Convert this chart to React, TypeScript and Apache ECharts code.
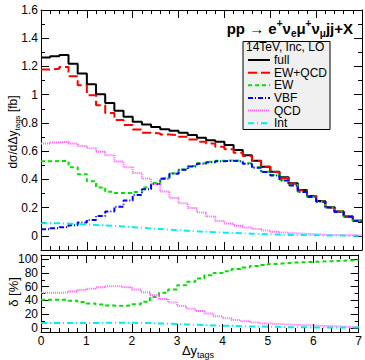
import React, { useEffect, useRef } from "react";
import * as echarts from "echarts";

// 35 bins of width 0.2 from 0 to 7 (Δy_tags)
const binWidth = 0.2;
const nBins = 35;

// dσ/dΔy_tags [fb]
const full = [1.263, 1.272, 1.281, 1.22, 1.15, 1.074, 1.003, 0.942, 0.886, 0.843, 0.808, 0.789, 0.772, 0.756, 0.744, 0.73, 0.714, 0.695, 0.678, 0.667, 0.643, 0.608, 0.572, 0.532, 0.49, 0.455, 0.415, 0.372, 0.325, 0.283, 0.247, 0.203, 0.172, 0.137, 0.108];
const ewqcd = [1.178, 1.183, 1.197, 1.131, 1.067, 0.996, 0.926, 0.871, 0.82, 0.785, 0.754, 0.73, 0.726, 0.718, 0.714, 0.702, 0.683, 0.667, 0.655, 0.631, 0.613, 0.589, 0.565, 0.53, 0.49, 0.452, 0.41, 0.37, 0.324, 0.282, 0.246, 0.203, 0.172, 0.137, 0.108];
const ew = [0.528, 0.53, 0.53, 0.486, 0.437, 0.387, 0.343, 0.312, 0.303, 0.303, 0.31, 0.342, 0.375, 0.408, 0.443, 0.471, 0.495, 0.514, 0.525, 0.532, 0.535, 0.53, 0.514, 0.486, 0.455, 0.431, 0.396, 0.36, 0.313, 0.278, 0.243, 0.203, 0.172, 0.137, 0.107];
const vbf = [0.047, 0.054, 0.061, 0.075, 0.094, 0.113, 0.141, 0.172, 0.207, 0.25, 0.29, 0.33, 0.367, 0.405, 0.44, 0.468, 0.492, 0.511, 0.522, 0.529, 0.532, 0.527, 0.511, 0.483, 0.452, 0.428, 0.393, 0.357, 0.311, 0.276, 0.241, 0.201, 0.17, 0.136, 0.106];
const qcd = [0.655, 0.662, 0.667, 0.655, 0.636, 0.62, 0.596, 0.572, 0.527, 0.486, 0.445, 0.406, 0.368, 0.315, 0.268, 0.232, 0.197, 0.165, 0.137, 0.105, 0.087, 0.072, 0.06, 0.048, 0.038, 0.03, 0.024, 0.018, 0.014, 0.011, 0.008, 0.006, 0.005, 0.004, 0.003];
const interf = [0.09, 0.089, 0.087, 0.083, 0.08, 0.077, 0.074, 0.07, 0.066, 0.062, 0.057, 0.052, 0.048, 0.044, 0.04, 0.036, 0.032, 0.029, 0.026, 0.023, 0.02, 0.018, 0.015, 0.013, 0.011, 0.009, 0.007, 0.006, 0.005, 0.004, 0.003, 0.002, 0.002, 0.001, 0.001];

// δ [%]
const ewPct = [41, 41, 41, 39.5, 37.5, 35.5, 34, 32.5, 32, 32.5, 34.5, 38, 45, 51, 56, 62, 67, 72, 76.5, 80, 82.5, 85.5, 88, 90, 91.5, 93, 94, 95, 95.5, 96, 96.5, 97, 97.5, 98, 99];
const qcdPct = [51, 51, 51.5, 53, 55, 57, 59, 60.5, 60.5, 59, 56, 52, 47.5, 42, 37, 32, 28, 24.5, 21, 17, 14, 11.5, 9.5, 8, 6.5, 5.5, 5, 4.5, 4, 3.5, 3, 2.5, 2, 1.5, 1];
const intPct = [7, 7, 7, 7, 7, 7, 7.5, 7.5, 7.5, 7.5, 7, 7, 6.5, 6, 5.5, 5, 4.5, 4, 3.5, 3, 3, 2.5, 2, 2, 1.5, 1.5, 1, 1, 1, 0.5, 0.5, 0.5, 0.5, 0.5, 0.5];

// tick labels
const xTicks = [0, 1, 2, 3, 4, 5, 6, 7];
const yTopTicks = [0, 0.2, 0.4, 0.6, 0.8, 1, 1.2, 1.4, 1.6];
const yTopMinor = [-0.1, 0, 0.1, 0.2, 0.3, 0.4, 0.5, 0.6, 0.7, 0.8, 0.9, 1, 1.1, 1.2, 1.3, 1.4, 1.5, 1.6];
const yBotTicks = [0, 20, 40, 60, 80, 100];
const yBotMinor = [0, 10, 20, 30, 40, 50, 60, 70, 80, 90, 100];

const legendNames = ["full", "EW+QCD", "EW", "VBF", "QCD", "Int"];

const FONT = "Liberation Sans, Arial, Helvetica, sans-serif";

const styles: Record<string, { color: string; type: any; width: number }> = {
  full: { color: "#000000", type: "solid", width: 2 },
  "EW+QCD": { color: "#ff0000", type: [9, 4], width: 2 },
  EW: { color: "#00e000", type: [4, 3], width: 2 },
  VBF: { color: "#0000ff", type: [5, 2, 1, 2], width: 2 },
  QCD: { color: "#ff66ff", type: [1, 1], width: 2 },
  Int: { color: "#00eeee", type: [6, 3, 1, 3], width: 2 },
};

function histData(vals: number[]) {
  const d: number[][] = vals.map((v, i) => [+(i * binWidth).toFixed(2), v]);
  d.push([+(nBins * binWidth).toFixed(2), vals[vals.length - 1]]);
  return d;
}

function stepSeries(name: string, vals: number[], xi: number, yi: number) {
  const s = styles[name];
  return {
    type: "line",
    name,
    step: "end",
    xAxisIndex: xi,
    yAxisIndex: yi,
    data: histData(vals),
    showSymbol: false,
    symbol: "none",
    lineStyle: { color: s.color, type: s.type, width: s.width },
    z: 3,
  };
}

const fmt = (v: number) => String(Math.round(v * 10) / 10);

function xAxisCfg(grid: number, pos: string, labels: boolean) {
  return {
    type: "value",
    gridIndex: grid,
    position: pos,
    min: 0,
    max: 7,
    interval: 1,
    axisLine: { show: true, onZero: false, lineStyle: { color: "#000", width: 1 } },
    axisTick: { show: true, inside: true, length: 8, lineStyle: { color: "#000" } },
    minorTick: { show: true, splitNumber: 5, length: 4, lineStyle: { color: "#000" } },
    splitLine: { show: false },
    minorSplitLine: { show: false },
    axisLabel: labels
      ? { show: true, color: "#000", fontSize: 12, fontFamily: FONT, margin: 3, customValues: xTicks }
      : { show: false },
  };
}

function yAxisCfg(grid: number, pos: string, min: number, max: number, tickVals: number[], len: number, labelVals: number[] | null, line: boolean) {
  return {
    type: "value",
    gridIndex: grid,
    position: pos,
    min,
    max,
    axisLine: { show: line, onZero: false, lineStyle: { color: "#000", width: 1 } },
    axisTick: { show: true, inside: true, length: len, customValues: tickVals, lineStyle: { color: "#000" } },
    splitLine: { show: false },
    axisLabel: labelVals
      ? { show: true, color: "#000", fontSize: 12, fontFamily: FONT, margin: 3, customValues: labelVals, formatter: fmt }
      : { show: false },
  };
}

export default function App() {
  const ref = useRef<HTMLDivElement>(null);
  useEffect(() => {
    document.body.style.margin = "0";
    if (!ref.current) return;
    const chart = echarts.init(ref.current, undefined, { renderer: "svg" });

    const legendY = [60, 72.7, 85.3, 98, 110.6, 123.3];
    const legendGraphics: any[] = [];
    legendNames.forEach((n, i) => {
      const s = styles[n];
      legendGraphics.push({
        type: "line",
        shape: { x1: 248, y1: legendY[i], x2: 270, y2: legendY[i] },
        style: { stroke: s.color, lineWidth: 2, lineDash: s.type === "solid" ? null : s.type },
        z: 101,
      });
      legendGraphics.push({
        type: "text",
        x: 274,
        y: legendY[i],
        style: { text: n, fontSize: 12, fontFamily: FONT, fill: "#000", textVerticalAlign: "middle", textAlign: "left" },
        z: 101,
      });
    });

    const option: any = {
      animation: false,
      textStyle: { fontFamily: FONT },
      grid: [
        { left: 41, right: 3, top: 10, height: 240 },
        { left: 41, right: 3, top: 255, height: 77 },
      ],
      xAxis: [
        xAxisCfg(0, "bottom", false),
        xAxisCfg(0, "top", false),
        xAxisCfg(1, "bottom", true),
        xAxisCfg(1, "top", false),
      ],
      yAxis: [
        yAxisCfg(0, "left", -0.1, 1.6, yTopMinor, 4, yTopTicks, true),
        yAxisCfg(0, "left", -0.1, 1.6, yTopTicks, 8, null, false),
        yAxisCfg(0, "right", -0.1, 1.6, yTopMinor, 4, null, true),
        yAxisCfg(0, "right", -0.1, 1.6, yTopTicks, 8, null, false),
        yAxisCfg(1, "left", -6, 106, yBotMinor, 4, yBotTicks, true),
        yAxisCfg(1, "left", -6, 106, yBotTicks, 8, null, false),
        yAxisCfg(1, "right", -6, 106, yBotMinor, 4, null, true),
        yAxisCfg(1, "right", -6, 106, yBotTicks, 8, null, false),
      ],
      series: [
        stepSeries("full", full, 0, 0),
        stepSeries("EW+QCD", ewqcd, 0, 0),
        stepSeries("EW", ew, 0, 0),
        stepSeries("VBF", vbf, 0, 0),
        stepSeries("QCD", qcd, 0, 0),
        stepSeries("Int", interf, 0, 0),
        stepSeries("EW", ewPct, 2, 4),
        stepSeries("QCD", qcdPct, 2, 4),
        stepSeries("Int", intPct, 2, 4),
      ],
      graphic: [
        {
          type: "text",
          x: 353,
          y: 28,
          style: {
            text: "{b|pp → e}{sup|+}{b|ν}{sub|e}{b|μ}{sup|+}{b|ν}{sub|μ}{b|jj+X}",
            textAlign: "right",
            textVerticalAlign: "middle",
            rich: {
              b: { fontSize: 15, fontWeight: "bold", fontFamily: FONT, fill: "#000", lineHeight: 20, verticalAlign: "middle" },
              sup: { fontSize: 10, fontWeight: "bold", fontFamily: FONT, fill: "#000", lineHeight: 20, verticalAlign: "top" },
              sub: { fontSize: 10, fontWeight: "bold", fontFamily: FONT, fill: "#000", lineHeight: 20, verticalAlign: "bottom" },
            },
          },
          z: 100,
        },
        {
          type: "rect",
          shape: { x: 243, y: 41.5, width: 87, height: 88 },
          style: { fill: "#f0f0f0", stroke: "#000", lineWidth: 1 },
          z: 100,
        },
        {
          type: "text",
          x: 246,
          y: 47,
          style: { text: "14TeV, Inc, LO", fontSize: 12, fontFamily: FONT, fill: "#000", textVerticalAlign: "middle" },
          z: 101,
        },
        ...legendGraphics,
        {
          type: "text",
          x: 13,
          y: 132,
          rotation: Math.PI / 2,
          style: {
            text: "{n|dσ/dΔy}{s|tags}{n| [fb]}",
            textAlign: "center",
            textVerticalAlign: "middle",
            rich: {
              n: { fontSize: 12, fontFamily: FONT, fill: "#000", lineHeight: 16, verticalAlign: "middle" },
              s: { fontSize: 8, fontFamily: FONT, fill: "#000", lineHeight: 16, verticalAlign: "bottom" },
            },
          },
        },
        {
          type: "text",
          x: 13,
          y: 292,
          rotation: Math.PI / 2,
          style: { text: "δ [%]", fontSize: 13, fontFamily: FONT, fill: "#000", textAlign: "center", textVerticalAlign: "middle" },
        },
        {
          type: "text",
          x: 198,
          y: 350,
          style: {
            text: "{n|Δy}{s|tags}",
            textAlign: "center",
            textVerticalAlign: "middle",
            rich: {
              n: { fontSize: 13, fontFamily: FONT, fill: "#000", lineHeight: 18, verticalAlign: "middle" },
              s: { fontSize: 9, fontFamily: FONT, fill: "#000", lineHeight: 18, verticalAlign: "bottom" },
            },
          },
        },
      ],
    };
    chart.setOption(option);
    return () => chart.dispose();
  }, []);
  return <div ref={ref} style={{ width: 365, height: 360 }} />;
}
